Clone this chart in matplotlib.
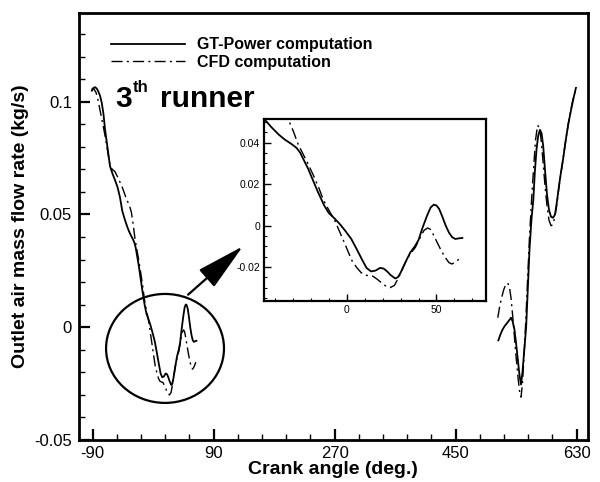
import matplotlib
matplotlib.use('Agg')
import matplotlib.pyplot as plt
import numpy as np
from matplotlib.patches import Ellipse
from matplotlib.ticker import MultipleLocator, FuncFormatter

plt.rcParams['font.family'] = ['Liberation Sans', 'DejaVu Sans']
plt.rcParams['lines.scale_dashes'] = False
plt.rcParams['axes.unicode_minus'] = False

# GT-Power 계산 결과 (crank angle, mass flow rate)
gt_left_deg = [-91.0, -89.1, -86.6, -84.0, -81.7, -79.0, -76.6, -74.0, -71.7, -68.3,
               -64.3, -60.5, -56.8, -53.0, -49.4, -46.0, -42.0, -38.0, -34.5, -30.5,
               -28.0, -26.0, -21.7, -16.1, -12.5, -10.0, -6.7, -4.0, -1.0, 2.5,
               5.5, 8.5, 11.0, 13.5, 16.0, 18.5, 20.5, 22.5, 24.5, 27.0,
               28.5, 30.0, 32.6, 35.4, 38.0, 40.0, 42.0, 44.8, 46.8, 48.5,
               50.0, 51.5, 53.3, 55.1, 57.0, 58.8, 60.5, 62.5, 64.4]
gt_left_val = [0.1050, 0.1060, 0.1064, 0.1058, 0.1045, 0.1025, 0.0995, 0.0945, 0.0877, 0.0803,
               0.0714, 0.0680, 0.0652, 0.0620, 0.0575, 0.0515, 0.0475, 0.0440, 0.0415, 0.0392,
               0.0375, 0.0352, 0.0277, 0.0162, 0.0095, 0.0060, 0.0033, 0.0008, -0.0024, -0.0065,
               -0.0114, -0.0165, -0.0205, -0.0222, -0.0218, -0.0205, -0.0208, -0.0222, -0.0240, -0.0256,
               -0.0250, -0.0228, -0.0179, -0.0130, -0.0100, -0.0070, -0.0016, 0.0049, 0.0088, 0.0101,
               0.0097, 0.0080, 0.0042, 0.0000, -0.0035, -0.0057, -0.0065, -0.0062, -0.0060]
gt_right_deg = [513.7, 517.0, 520.0, 523.0, 526.0, 529.5, 532.6, 535.0, 537.6, 540.0,
                542.5, 545.0, 547.4, 549.5, 552.0, 555.0, 557.5, 560.0, 563.0, 565.7,
                568.0, 570.5, 573.0, 575.6, 578.0, 580.5, 583.0, 586.0, 589.0, 592.0,
                595.0, 598.0, 601.0, 604.0, 607.0, 610.0, 614.0, 618.0, 622.0, 625.5, 629.0]
gt_right_val = [-0.0058, -0.0030, -0.0010, 0.0005, 0.0016, 0.0030, 0.0042, 0.0025, -0.0010, -0.0070,
                -0.0140, -0.0210, -0.0254, -0.0200, -0.0110, 0.0000, 0.0170, 0.0344, 0.0480, 0.0565,
                0.0690, 0.0790, 0.0850, 0.0875, 0.0860, 0.0800, 0.0700, 0.0590, 0.0520, 0.0490,
                0.0485, 0.0500, 0.0560, 0.0630, 0.0690, 0.0745, 0.0830, 0.0905, 0.0965, 0.1015, 0.1060]

# CFD 계산 결과
cfd_left_deg = [-92.0, -90.5, -88.0, -85.0, -82.0, -79.0, -76.0, -73.0, -70.0, -67.0,
                -64.0, -61.0, -57.0, -52.0, -46.0, -40.0, -35.5, -32.5, -30.0, -27.0,
                -22.0, -18.7, -15.5, -13.0, -9.4, -7.0, -4.7, -2.0, 0.9, 3.0,
                5.5, 8.0, 10.2, 12.5, 14.5, 17.0, 19.5, 22.0, 24.2, 26.5,
                28.9, 31.0, 33.5, 36.0, 38.2, 40.5, 43.0, 45.0, 46.5, 47.6,
                50.0, 52.2, 54.5, 56.9, 58.5, 60.0, 61.8, 63.4]
cfd_left_val = [0.1045, 0.1058, 0.1055, 0.1040, 0.1005, 0.0960, 0.0915, 0.0870, 0.0820, 0.0765,
                0.0715, 0.0700, 0.0690, 0.0660, 0.0620, 0.0570, 0.0540, 0.0510, 0.0460, 0.0390,
                0.0305, 0.0244, 0.0180, 0.0122, 0.0065, 0.0030, -0.0016, -0.0070, -0.0130, -0.0172,
                -0.0203, -0.0228, -0.0240, -0.0243, -0.0245, -0.0260, -0.0278, -0.0295, -0.0300, -0.0290,
                -0.0252, -0.0210, -0.0163, -0.0130, -0.0106, -0.0065, -0.0024, -0.0012, -0.0018, -0.0033,
                -0.0075, -0.0114, -0.0150, -0.0179, -0.0186, -0.0180, -0.0168, -0.0155]
cfd_right_deg = [512.8, 515.5, 518.5, 521.5, 524.5, 527.6, 530.0, 532.5, 535.0, 537.5,
                 540.0, 542.5, 545.0, 547.4, 549.5, 552.0, 554.5, 557.0, 560.0, 563.0,
                 566.0, 569.0, 572.0, 574.5, 577.0, 580.0, 583.0, 586.0, 589.0, 592.0,
                 594.5, 597.0, 600.0, 603.0, 606.0, 609.0, 612.0, 616.0, 620.0, 624.0, 628.0, 630.0]
cfd_right_val = [0.0042, 0.0090, 0.0130, 0.0165, 0.0188, 0.0196, 0.0180, 0.0130, 0.0050, -0.0040,
                 -0.0130, -0.0210, -0.0280, -0.0310, -0.0250, -0.0120, 0.0030, 0.0200, 0.0400, 0.0560,
                 0.0700, 0.0830, 0.0895, 0.0885, 0.0840, 0.0740, 0.0630, 0.0540, 0.0475, 0.0450,
                 0.0454, 0.0480, 0.0530, 0.0600, 0.0665, 0.0725, 0.0790, 0.0870, 0.0940, 0.1000, 0.1045, 0.1065]

main_xticks = [-90, 90, 270, 450, 630]

dashdot = (0, (8, 3, 1.5, 3))
fmt = FuncFormatter(lambda v, p: '%g' % round(v, 4))

fig = plt.figure(figsize=(6, 4.82), dpi=100)
ax = fig.add_axes([0.1317, 0.0871, 0.848, 0.886])

ax.plot(gt_left_deg, gt_left_val, color='k', lw=1.3, label='GT-Power computation')
ax.plot(gt_right_deg, gt_right_val, color='k', lw=1.3)
ax.plot(cfd_left_deg, cfd_left_val, color='k', lw=1.0, ls=dashdot, label='CFD computation')
ax.plot(cfd_right_deg, cfd_right_val, color='k', lw=1.0, ls=dashdot)

ax.set_xlim(-110.4, 646.8)
ax.set_ylim(-0.05, 0.1393)
ax.set_xticks(main_xticks)
ax.set_xticks(np.arange(-90, 631, 36), minor=True)
ax.yaxis.set_major_locator(MultipleLocator(0.05))
ax.yaxis.set_minor_locator(MultipleLocator(0.01))
ax.yaxis.set_major_formatter(fmt)
ax.tick_params(which='both', direction='in', top=False, right=False)
ax.tick_params(which='major', length=8, width=1.6, labelsize=12)
ax.tick_params(which='minor', length=4, width=1.0)
ax.tick_params(axis='x', pad=4)
ax.tick_params(axis='y', pad=5)
for s in ax.spines.values():
    s.set_linewidth(2)

ax.set_xlabel('Crank angle (deg.)', fontsize=14, fontweight='bold', labelpad=0)
ax.set_ylabel('Outlet air mass flow rate (kg/s)', fontsize=14, fontweight='bold', labelpad=4)

ax.legend(loc='upper left', bbox_to_anchor=(0.063, 0.943), frameon=False,
          handlelength=4.6, handletextpad=0.8, labelspacing=0.15,
          borderpad=0, borderaxespad=0,
          prop={'size': 11.5, 'weight': 'bold'})

# 3th runner
fig.text(0.1917, 0.778, '3', fontsize=21.5, fontweight='bold', va='baseline')
fig.text(0.2217, 0.809, 'th', fontsize=12, fontweight='bold', va='baseline')
fig.text(0.2667, 0.778, 'runner', fontsize=21.5, fontweight='bold', va='baseline')

# 원 + 화살표
ax.add_patch(Ellipse((17.6, -0.0094), 175.5, 0.0483, fill=False, lw=1.6, color='k'))
ax.annotate('', xy=(136.6, 0.0367), xytext=(48.8, 0.0136),
            arrowprops=dict(arrowstyle='-|>,head_length=1.7,head_width=0.4',
                            lw=1.6, color='k', mutation_scale=18))

# 확대 그래프
ins = fig.add_axes([0.4405, 0.3755, 0.3695, 0.3776])
ins.plot(gt_left_deg, gt_left_val, color='k', lw=1.3)
ins.plot(cfd_left_deg, cfd_left_val, color='k', lw=1.0, ls=dashdot)
ins.set_xlim(-46, 77.6)
ins.set_ylim(-0.0365, 0.0515)
ins.xaxis.set_major_locator(MultipleLocator(50))
ins.xaxis.set_minor_locator(MultipleLocator(10))
ins.yaxis.set_major_locator(MultipleLocator(0.02))
ins.yaxis.set_minor_locator(MultipleLocator(0.005))
ins.yaxis.set_major_formatter(fmt)
ins.xaxis.set_major_formatter(fmt)
ins.tick_params(which='both', direction='in', top=False, right=False, labelsize=7.5, pad=3)
ins.tick_params(which='major', length=5, width=1.0)
ins.tick_params(which='minor', length=2.5, width=0.8)
for s in ins.spines.values():
    s.set_linewidth(1.6)

fig.savefig('out.png', dpi=100)
